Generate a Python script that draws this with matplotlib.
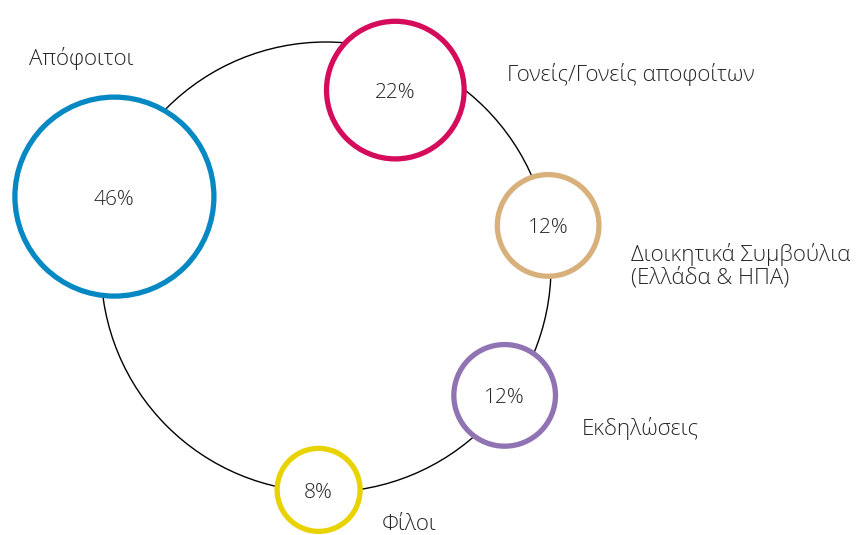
import numpy as np
import matplotlib.pyplot as plt
from matplotlib.patches import Circle

# data
categories = ['Απόφοιτοι', 'Γονείς/Γονείς αποφοίτων',
              'Διοικητικά Συμβούλια\n(Ελλάδα & ΗΠΑ)', 'Εκδηλώσεις', 'Φίλοι']
shares = [46, 22, 12, 12, 8]
colors = ['#0689c3', '#d50b5c', '#d8b07c', '#9073b2', '#e8d200']

# layout (pixel space, y down)
ring_center = (326, 267)
ring_radius = 225
angles = [161.6, 68.6, 10.6, -35.7, -91.9]
dists = [223, 190, 226, 220, 223]
label_pos = [(29, 58), (507, 75), (631, 266), (582, 428), (382, 524)]

plt.rcParams['font.family'] = ['Open Sans', 'DejaVu Sans']
text_color = '#262626'


def draw_chart():
    fig = plt.figure(figsize=(8.56, 5.35), dpi=100)
    ax = fig.add_axes([0, 0, 1, 1])
    ax.set_xlim(0, 856)
    ax.set_ylim(535, 0)
    ax.axis('off')

    ring = Circle(ring_center, ring_radius, fill=False, ec='black', lw=1.0, zorder=1)
    ax.add_patch(ring)

    k = 99.5 / np.sqrt(max(shares))
    for share, color, ang, d in zip(shares, colors, angles, dists):
        a = np.radians(ang)
        x = ring_center[0] + d * np.cos(a)
        y = ring_center[1] - d * np.sin(a)
        r = k * np.sqrt(share)
        ax.add_patch(Circle((x, y), r, fc='white', ec=color, lw=3.8, zorder=2))
        ax.text(x, y + 3, f'{share}%', ha='center', va='center', fontsize=15,
                fontweight='light', color=text_color, zorder=3)

    for name, (lx, ly) in zip(categories, label_pos):
        ax.text(lx, ly, name, ha='left', va='center', fontsize=16,
                fontweight='light', color=text_color, linespacing=1.05)

    fig.savefig('out.png', dpi=100)


if __name__ == '__main__':
    draw_chart()
